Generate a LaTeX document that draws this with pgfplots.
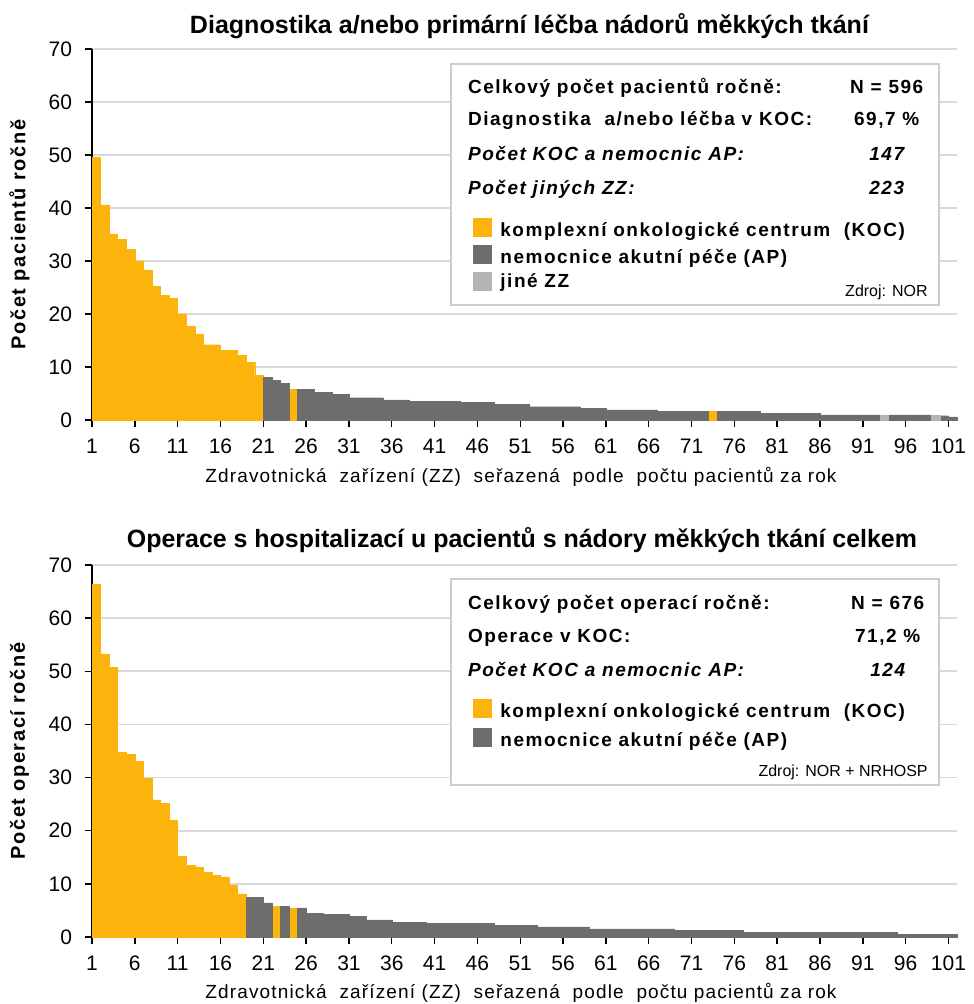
\documentclass[border=0pt]{standalone}
\usepackage{graphicx}
\usepackage{fontspec}
\setmainfont{Liberation Sans}
\usepackage{pgfplots}
\usepackage{pgfplotstable}
\pgfplotsset{compat=1.18}
\definecolor{koc}{RGB}{252,180,12}
\definecolor{ap}{RGB}{109,109,109}
\definecolor{jine}{RGB}{180,180,180}
\definecolor{gridc}{RGB}{217,217,217}
\definecolor{boxc}{RGB}{205,205,205}

\pgfplotstableread{
i v c
1 49.6 0
2 40.6 0
3 35.1 0
4 34.1 0
5 32.2 0
6 30.0 0
7 28.3 0
8 25.2 0
9 23.5 0
10 22.9 0
11 20.0 0
12 17.7 0
13 16.1 0
14 14.2 0
15 14.2 0
16 13.2 0
17 13.2 0
18 12.2 0
19 10.9 0
20 8.4 0
21 8.1 1
22 7.5 1
23 6.9 1
24 5.8 0
25 5.8 1
26 5.8 1
27 5.2 1
28 5.2 1
29 4.8 1
30 4.8 1
31 4.2 1
32 4.2 1
33 4.2 1
34 4.2 1
35 3.8 1
36 3.8 1
37 3.8 1
38 3.5 1
39 3.5 1
40 3.5 1
41 3.5 1
42 3.5 1
43 3.5 1
44 3.3 1
45 3.3 1
46 3.3 1
47 3.3 1
48 3.0 1
49 3.0 1
50 3.0 1
51 3.0 1
52 2.5 1
53 2.5 1
54 2.5 1
55 2.5 1
56 2.5 1
57 2.5 1
58 2.2 1
59 2.2 1
60 2.2 1
61 1.9 1
62 1.9 1
63 1.9 1
64 1.9 1
65 1.9 1
66 1.9 1
67 1.6 1
68 1.6 1
69 1.6 1
70 1.6 1
71 1.6 1
72 1.6 1
73 1.6 0
74 1.6 1
75 1.6 1
76 1.6 1
77 1.6 1
78 1.6 1
79 1.3 1
80 1.3 1
81 1.3 1
82 1.3 1
83 1.3 1
84 1.3 1
85 1.3 1
86 0.95 1
87 0.95 1
88 0.95 1
89 0.95 1
90 0.95 1
91 0.95 1
92 0.95 1
93 0.95 2
94 0.95 1
95 0.95 1
96 0.95 1
97 0.95 1
98 0.95 1
99 0.95 2
100 0.8 1
101 0.6 1
}\diagdata

\pgfplotstableread{
i v c
1 66.4 0
2 53.3 0
3 50.8 0
4 34.8 0
5 34.4 0
6 33.1 0
7 29.9 0
8 25.8 0
9 25.1 0
10 21.9 0
11 15.2 0
12 13.5 0
13 13.2 0
14 12.2 0
15 11.6 0
16 11.3 0
17 9.7 0
18 8.1 0
19 7.5 1
20 7.5 1
21 6.4 1
22 5.8 0
23 5.8 1
24 5.5 0
25 5.5 1
26 4.5 1
27 4.5 1
28 4.2 1
29 4.2 1
30 4.2 1
31 3.9 1
32 3.9 1
33 3.2 1
34 3.2 1
35 3.2 1
36 2.8 1
37 2.8 1
38 2.8 1
39 2.8 1
40 2.6 1
41 2.6 1
42 2.6 1
43 2.6 1
44 2.6 1
45 2.6 1
46 2.6 1
47 2.6 1
48 2.2 1
49 2.2 1
50 2.2 1
51 2.2 1
52 2.2 1
53 1.9 1
54 1.9 1
55 1.9 1
56 1.9 1
57 1.9 1
58 1.9 1
59 1.55 1
60 1.55 1
61 1.55 1
62 1.55 1
63 1.55 1
64 1.55 1
65 1.55 1
66 1.55 1
67 1.55 1
68 1.55 1
69 1.2 1
70 1.2 1
71 1.2 1
72 1.2 1
73 1.2 1
74 1.2 1
75 1.2 1
76 1.2 1
77 0.9 1
78 0.9 1
79 0.9 1
80 0.9 1
81 0.9 1
82 0.9 1
83 0.9 1
84 0.9 1
85 0.9 1
86 0.9 1
87 0.9 1
88 0.9 1
89 0.9 1
90 0.9 1
91 0.9 1
92 0.9 1
93 0.9 1
94 0.9 1
95 0.56 1
96 0.56 1
97 0.56 1
98 0.56 1
99 0.56 1
100 0.56 1
101 0.56 1
}\operdata

\pgfplotsset{
  mybars/.style={
    scale only axis, width=432.5pt, height=185.5pt,
    anchor=south west,
    xmin=1, xmax=102, ymin=0, ymax=70,
    enlargelimits=false,
    xtick={1,6,...,101}, ytick={0,10,...,70},
    axis x line*=bottom, axis y line*=left,
    axis line style={black, line width=1pt, -},
    ymajorgrids, grid style={gridc, line width=0.8pt},
    tick align=outside, major tick length=3.5pt,
    tick style={black, line width=0.7pt},
    ticklabel style={font=\fontsize{10.5}{12}\selectfont},
    xticklabel style={yshift=-2.5pt},
    yticklabel style={xshift=-3pt},
    /pgf/number format/assume math mode=true,
    ybar, bar width=1,
    clip=false,
  },
  bar/.style={bar shift=0pt, fill=#1, draw=#1, line width=0.2pt},
}

\newcommand{\lgf}{\fontsize{9.5}{11}\selectfont\bfseries\addfontfeature{LetterSpace=8}}
\newcommand{\lgfi}{\fontsize{9.5}{11}\selectfont\bfseries\itshape\addfontfeature{LetterSpace=8}}
\newcommand{\srcf}{\fontsize{8}{10}\selectfont}
\newcommand{\xlf}{\fontsize{9.5}{11}\selectfont\addfontfeature{LetterSpace=6}}
\newcommand{\ylf}{\fontsize{10}{12}\selectfont\bfseries\addfontfeature{LetterSpace=8}}

\begin{document}
\begin{tikzpicture}
\path[use as bounding box] (0,0) rectangle (486.5pt,502pt);

% ---------------- top chart ----------------
\begin{axis}[mybars, at={(46pt,292pt)}]
\addplot[bar=koc] table[x expr=\thisrow{i}+0.5, y=v, restrict expr to domain={\thisrow{c}}{0:0}] {\diagdata};
\addplot[bar=ap] table[x expr=\thisrow{i}+0.5, y=v, restrict expr to domain={\thisrow{c}}{1:1}] {\diagdata};
\addplot[bar=jine] table[x expr=\thisrow{i}+0.5, y=v, restrict expr to domain={\thisrow{c}}{2:2}] {\diagdata};
\end{axis}

% ---------------- bottom chart ----------------
\begin{axis}[mybars, at={(46pt,33.5pt)}, height=186pt]
\addplot[bar=koc] table[x expr=\thisrow{i}+0.5, y=v, restrict expr to domain={\thisrow{c}}{0:0}] {\operdata};
\addplot[bar=ap] table[x expr=\thisrow{i}+0.5, y=v, restrict expr to domain={\thisrow{c}}{1:1}] {\operdata};
\end{axis}

% titles
\node[anchor=base, inner sep=0] at (264.75pt,485pt)
  {\resizebox{339.5pt}{\height}{\fontsize{12.5}{14}\selectfont\bfseries Diagnostika a/nebo primární léčba nádorů měkkých tkání}};
\node[anchor=base, inner sep=0] at (261pt,228pt)
  {\resizebox{395pt}{\height}{\fontsize{12.5}{14}\selectfont\bfseries Operace s hospitalizací u pacientů s nádory měkkých tkání celkem}};

% x labels
\node[anchor=base, inner sep=0] at (260.5pt,260.5pt)
  {\xlf Zdravotnická \ zařízení (ZZ) \ seřazená \ podle \ počtu pacientů za rok};
\node[anchor=base, inner sep=0] at (260.5pt,2.5pt)
  {\xlf Zdravotnická \ zařízení (ZZ) \ seřazená \ podle \ počtu pacientů za rok};

% y labels
\node[rotate=90, inner sep=0] at (9.75pt,384.75pt) {\ylf Počet pacientů ročně};
\node[rotate=90, inner sep=0] at (9.75pt,126.5pt) {\ylf Počet operací ročně};

% ---------------- top info box ----------------
\draw[boxc, line width=0.8pt, fill=white] (225.5pt,349.5pt) rectangle (469.5pt,470pt);
\node[anchor=base west, inner sep=0] at (233.85pt,455.35pt) {\lgf Celkový počet pacientů ročně:};
\node[anchor=base, inner sep=0] at (443.35pt,455.35pt) {\lgf N = 596};
\node[anchor=base west, inner sep=0] at (233.85pt,439pt) {\lgf Diagnostika \ a/nebo léčba v KOC:};
\node[anchor=base, inner sep=0] at (443.35pt,439pt) {\lgf 69,7 \%};
\node[anchor=base west, inner sep=0] at (233.85pt,421.5pt) {\lgfi Počet KOC a nemocnic AP:};
\node[anchor=base, inner sep=0] at (443.35pt,421.5pt) {\lgfi 147};
\node[anchor=base west, inner sep=0] at (233.85pt,404.5pt) {\lgfi Počet jiných ZZ:};
\node[anchor=base, inner sep=0] at (443.35pt,404.5pt) {\lgfi 223};
\fill[koc] (236.5pt,383.65pt) rectangle (246pt,393.15pt);
\node[anchor=base west, inner sep=0] at (250pt,383.65pt) {\lgf komplexní onkologické centrum \ (KOC)};
\fill[ap] (236.5pt,370pt) rectangle (246pt,379.5pt);
\node[anchor=base west, inner sep=0] at (250pt,370pt) {\lgf nemocnice akutní péče (AP)};
\fill[jine] (236.5pt,356.35pt) rectangle (246pt,365.85pt);
\node[anchor=base west, inner sep=0] at (250pt,358pt) {\lgf jiné ZZ};
\node[anchor=base east, inner sep=0] at (464pt,353.65pt) {\srcf Zdroj: NOR};

% ---------------- bottom info box ----------------
\draw[boxc, line width=0.8pt, fill=white] (225.5pt,109.5pt) rectangle (469.5pt,212.35pt);
\node[anchor=base west, inner sep=0] at (233.85pt,197pt) {\lgf Celkový počet operací ročně:};
\node[anchor=base, inner sep=0] at (443.85pt,197pt) {\lgf N = 676};
\node[anchor=base west, inner sep=0] at (233.85pt,180.5pt) {\lgf Operace v KOC:};
\node[anchor=base, inner sep=0] at (443.85pt,180.5pt) {\lgf 71,2 \%};
\node[anchor=base west, inner sep=0] at (233.85pt,163.65pt) {\lgfi Počet KOC a nemocnic AP:};
\node[anchor=base, inner sep=0] at (443.85pt,163.65pt) {\lgfi 124};
\fill[koc] (236.5pt,143pt) rectangle (246pt,152.5pt);
\node[anchor=base west, inner sep=0] at (250pt,143pt) {\lgf komplexní onkologické centrum \ (KOC)};
\fill[ap] (236.5pt,128.65pt) rectangle (246pt,138.15pt);
\node[anchor=base west, inner sep=0] at (250pt,128.65pt) {\lgf nemocnice akutní péče (AP)};
\node[anchor=base east, inner sep=0] at (464pt,113.65pt) {\srcf Zdroj: NOR + NRHOSP};
\end{tikzpicture}
\end{document}
